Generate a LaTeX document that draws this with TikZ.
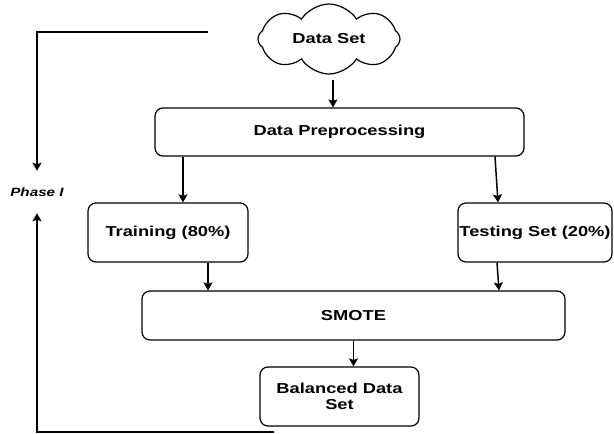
\documentclass[tikz,border=0pt]{standalone}
\usepackage{fontspec}
\newfontfamily\boxfont[FakeStretch=1.27]{Liberation Sans}
\usetikzlibrary{shapes.symbols,arrows.meta}

\begin{document}
\begin{tikzpicture}[x=1pt,y=-1pt,
  box/.style={draw, line width=1.2pt, rounded corners=8pt, inner sep=0pt, align=center,
    font=\boxfont\bfseries\fontsize{14.4}{16}\selectfont},
  arr/.style={line width=1.5pt, -{Stealth[length=8pt,width=9pt,inset=1.5pt]}},
  loop/.style={line width=1.2pt}]
\useasboundingbox (0,0) rectangle (614,434);
\node[name=cloud, cloud, cloud puffs=8, cloud puff arc=115, aspect=2, draw, line width=1.2pt,
  minimum width=142pt, minimum height=70pt, inner sep=0pt, font=\boxfont\bfseries\fontsize{14.4}{16}\selectfont] at (329,39) {Data Set};
\node[name=pre, box, minimum width=369pt, minimum height=48pt] at (339.5,132) {Data Preprocessing};
\node[name=train, box, minimum width=160pt, minimum height=59pt] at (168,232.5) {Training (80\%)};
\node[name=test, box, minimum width=154pt, minimum height=59pt] at (535,232.5) {Testing Set (20\%)};
\node[name=smote, box, minimum width=423pt, minimum height=49pt] at (353.5,315.5) {SMOTE};
\node[name=bal, box, minimum width=159pt, minimum height=59pt] at (339.5,396.5) {Balanced Data\\Set};
\node[name=phase, minimum height=42pt, inner sep=0pt, font=\boxfont\bfseries\itshape\fontsize{12}{14}\selectfont] at (37,192) {Phase I};
\coordinate (loopTop) at (208,32);
\coordinate (loopBot) at (274,432);
% flow
\draw[arr] ([xshift=4pt,yshift=-5pt]cloud.south) -- ([xshift=4pt]cloud.south |- pre.north);
\draw[arr] ([xshift=15pt]train.north |- pre.south) -- ([xshift=15pt]train.north);
\draw[arr] ([xshift=-40pt]test.north |- pre.south) -- ([xshift=-37pt]test.north);
\draw[arr] ([xshift=40pt]train.south) -- ([xshift=40pt]train.south |- smote.north);
\draw[arr] ([xshift=-38pt]test.south) -- ([xshift=-36pt]test.south |- smote.north);
\draw[arr] (smote.south) -- (smote.south |- bal.north);
% phase loop
\draw[loop, arr] (loopTop) -| (phase.north);
\draw[loop, arr] (loopBot) -| (phase.south);
\end{tikzpicture}
\end{document}
